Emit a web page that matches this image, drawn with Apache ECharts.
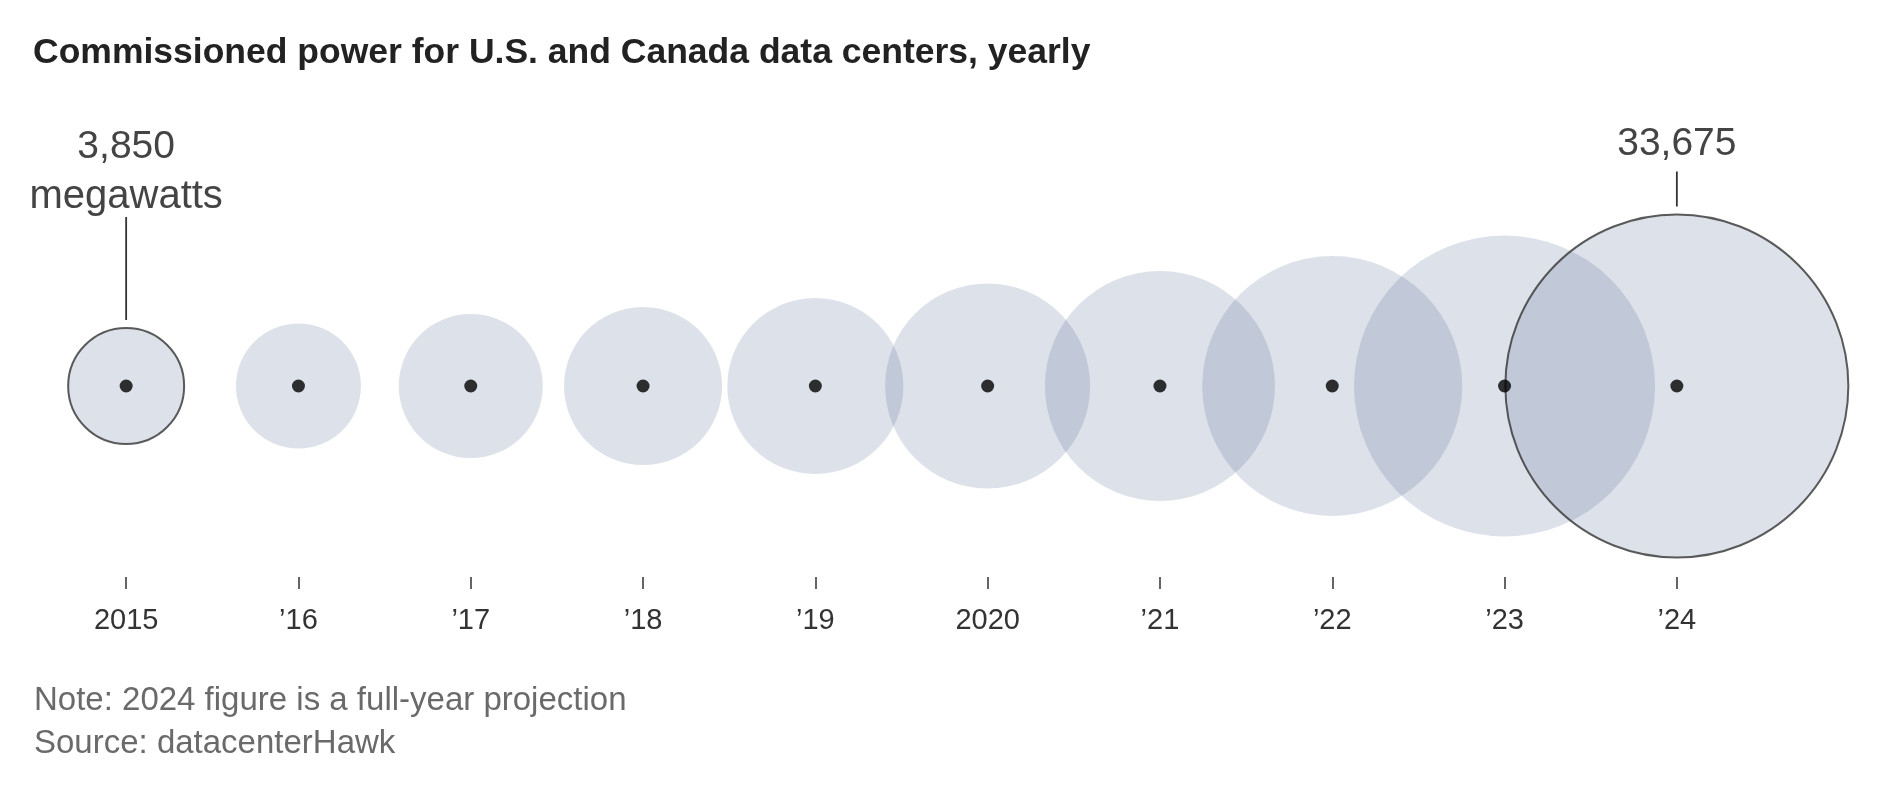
<!DOCTYPE html>
<html>
<head>
<meta charset="utf-8">
<script src="https://cdn.jsdelivr.net/npm/echarts@6/dist/echarts.min.js"></script>
<style>
html,body{margin:0;padding:0;background:#fff;}
#chart{width:1887px;height:811px;}
</style>
</head>
<body>
<div id="chart"></div>
<script>
// ---- data ----
const years = ['2015','2016','2017','2018','2019','2020','2021','2022','2023','2024'];
const tickLabels = ['2015',"\u201916","\u201917","\u201918","\u201919",'2020',"\u201921","\u201922","\u201923","\u201924"];
const megawatts = [3850, 4470, 5940, 7150, 8870, 12030, 15140, 19350, 25930, 33675];
const outlinedYears = ['2015','2024'];
const annotatedYears = ['2015','2024'];
const annotationUnit = ['megawatts', ''];

const titleText = 'Commissioned power for U.S. and Canada data centers, yearly';
const noteText = 'Note: 2024 figure is a full-year projection';
const sourceText = 'Source: datacenterHawk';

// ---- styling ----
const FONT = '"Liberation Sans", Arial, sans-serif';
const RMAX = 171.5;
const MAXV = Math.max.apply(null, megawatts);
function radius(v){ return RMAX * Math.sqrt(v / MAXV); }
function fmt(v){ return v.toLocaleString('en-US'); }

const bubbleData = years.map((y, i) => {
  const item = { value: [i, 0, megawatts[i]] };
  if (outlinedYears.indexOf(y) >= 0) {
    item.itemStyle = { borderColor: '#333', borderWidth: 2 };
  }
  return item;
});
const dotData = years.map((y, i) => [i, 0]);
const annoData = annotatedYears.map((y, k) => {
  const i = years.indexOf(y);
  return [i, 0, megawatts[i], k];
});

const chart = echarts.init(document.getElementById('chart'), null, {renderer: 'canvas'});
chart.setOption({
  animation: false,
  backgroundColor: '#fff',
  title: [
    { text: titleText, left: 28, top: 30,
      textStyle: { fontFamily: FONT, fontSize: 35.5, fontWeight: 'bold', color: '#222' } },
    { text: noteText, left: 29, top: 679,
      textStyle: { fontFamily: FONT, fontSize: 33, fontWeight: 'normal', color: '#6a6a6a' } },
    { text: sourceText, left: 29, top: 722,
      textStyle: { fontFamily: FONT, fontSize: 33, fontWeight: 'normal', color: '#6a6a6a' } }
  ],
  grid: { left: 40, right: 124, top: 197, bottom: 236, containLabel: false },
  xAxis: {
    type: 'category',
    data: tickLabels,
    boundaryGap: true,
    offset: 2,
    axisLine: { show: false, onZero: false },
    axisTick: { show: true, alignWithLabel: true, length: 12, lineStyle: { color: '#333', width: 1.5 } },
    axisLabel: { margin: 29, fontFamily: FONT, fontSize: 29, color: '#333' },
    splitLine: { show: false }
  },
  yAxis: { type: 'value', min: -1, max: 1, show: false },
  series: [
    {
      type: 'scatter',
      data: bubbleData,
      symbol: 'circle',
      symbolSize: function (val) { return 2 * radius(val[2]); },
      itemStyle: { color: 'rgba(60,85,130,0.22)', borderWidth: 0 },
      z: 2,
      silent: true
    },
    {
      type: 'scatter',
      data: dotData,
      symbol: 'circle',
      symbolSize: 13,
      itemStyle: { color: '#000' },
      z: 3,
      silent: true
    },
    {
      type: 'custom',
      data: annoData,
      z: 4,
      silent: true,
      renderItem: function (params, api) {
        const c = api.coord([api.value(0), api.value(1)]);
        const r = radius(api.value(2));
        const k = api.value(3);
        const unit = annotationUnit[k];
        const top = c[1] - r - 8;
        const lineLen = unit ? 103 : 35;
        const lineTop = top - lineLen;
        const children = [
          { type: 'line', shape: { x1: c[0], y1: top, x2: c[0], y2: lineTop },
            style: { stroke: '#333', lineWidth: 1.8 } }
        ];
        let baseY = lineTop - 16;
        if (unit) {
          children.push({ type: 'text', style: { text: unit, x: c[0], y: baseY + 16, align: 'center', verticalAlign: 'bottom',
            font: '40px ' + FONT, fill: '#444' } });
          baseY -= 42;
        }
        children.push({ type: 'text', style: { text: fmt(api.value(2)), x: c[0], y: baseY + 8, align: 'center', verticalAlign: 'bottom',
          font: '39px ' + FONT, fill: '#444' } });
        return { type: 'group', children: children };
      }
    }
  ]
});
</script>
</body>
</html>
